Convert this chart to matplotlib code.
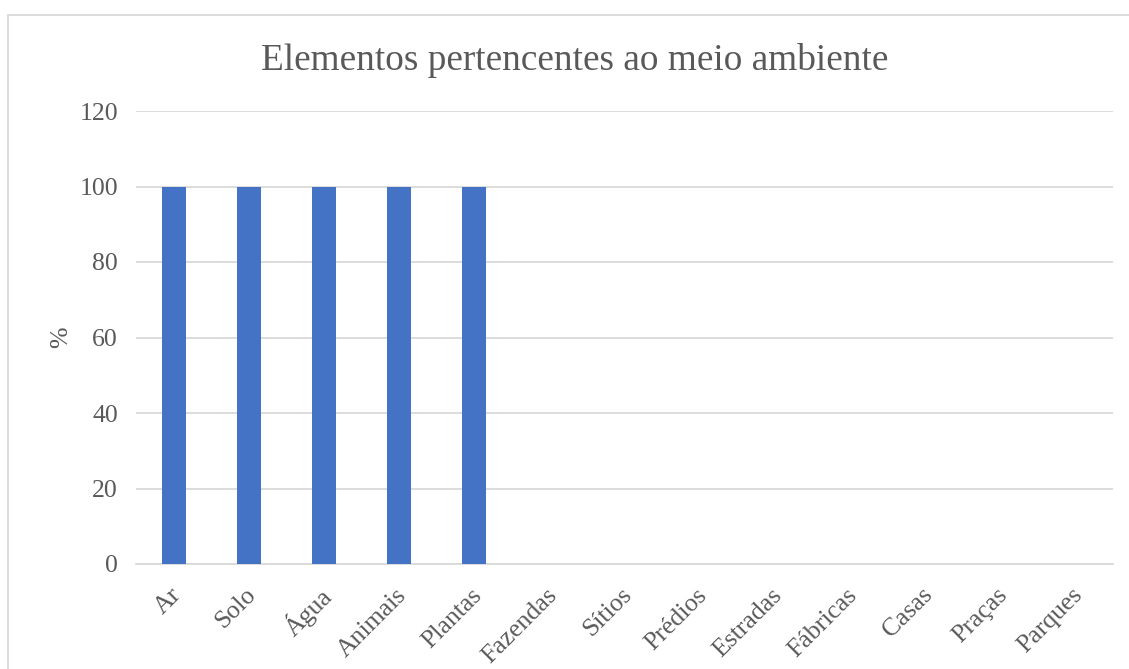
import matplotlib.pyplot as plt
import matplotlib.patches as mpatches
import matplotlib.transforms as mtransforms

categorias = ['Ar', 'Solo', 'Água', 'Animais', 'Plantas', 'Fazendas', 'Sítios',
              'Prédios', 'Estradas', 'Fábricas', 'Casas', 'Praças', 'Parques']
valores = [100, 100, 100, 100, 100, 0, 0, 0, 0, 0, 0, 0, 0]
yticks = [0, 20, 40, 60, 80, 100, 120]

azul = '#4472C4'
cinza_txt = '#595959'
cinza_grid = '#D9D9D9'

plt.rcParams['font.family'] = ['Liberation Serif', 'DejaVu Serif']

fig = plt.figure(figsize=(11.29, 6.69), dpi=100)
ax = fig.add_axes([136/1129, 1 - 564/669, (1113-136)/1129, (564-111)/669])

x = range(len(categorias))
ax.bar(x, valores, width=0.32, color=azul, zorder=3)

ax.set_xlim(-0.5, len(categorias) - 0.5)
ax.set_ylim(0, 120)
ax.set_yticks(yticks)
ax.set_yticklabels([str(v) for v in yticks], fontsize=18.5, color=cinza_txt)
ax.set_xticks(list(x))
ax.set_xticklabels(categorias, fontsize=18.5, color=cinza_txt, rotation=45,
                   ha='right', va='center', rotation_mode='anchor')
ax.tick_params(axis='both', length=0)
ax.tick_params(axis='x', pad=20)
ax.tick_params(axis='y', pad=13)

# desloca os rótulos inclinados um pouco para a direita
desloc = mtransforms.ScaledTranslation(4/100, 0, fig.dpi_scale_trans)
for lbl in ax.get_xticklabels():
    lbl.set_transform(lbl.get_transform() + desloc)

ax.grid(axis='y', color=cinza_grid, linewidth=1.3, zorder=0)
for s in ['top', 'right', 'left']:
    ax.spines[s].set_visible(False)
ax.spines['bottom'].set_color(cinza_grid)
ax.spines['bottom'].set_linewidth(1.3)

ax.set_ylabel('%', fontsize=18.5, color=cinza_txt)
ax.yaxis.set_label_coords((72 - 136)/977, 0.5)
fig.text(575/1129, 1 - 60/669, 'Elementos pertencentes ao meio ambiente',
         fontsize=26.8, color=cinza_txt, ha='center', va='center')

# moldura da área do gráfico
fig.patches.append(mpatches.Rectangle((8/1129, -0.05), 1.2, 1 - 15/669 + 0.05,
                                      transform=fig.transFigure, fill=False,
                                      edgecolor=cinza_grid, linewidth=1.3))

fig.savefig('out.png', dpi=100)
